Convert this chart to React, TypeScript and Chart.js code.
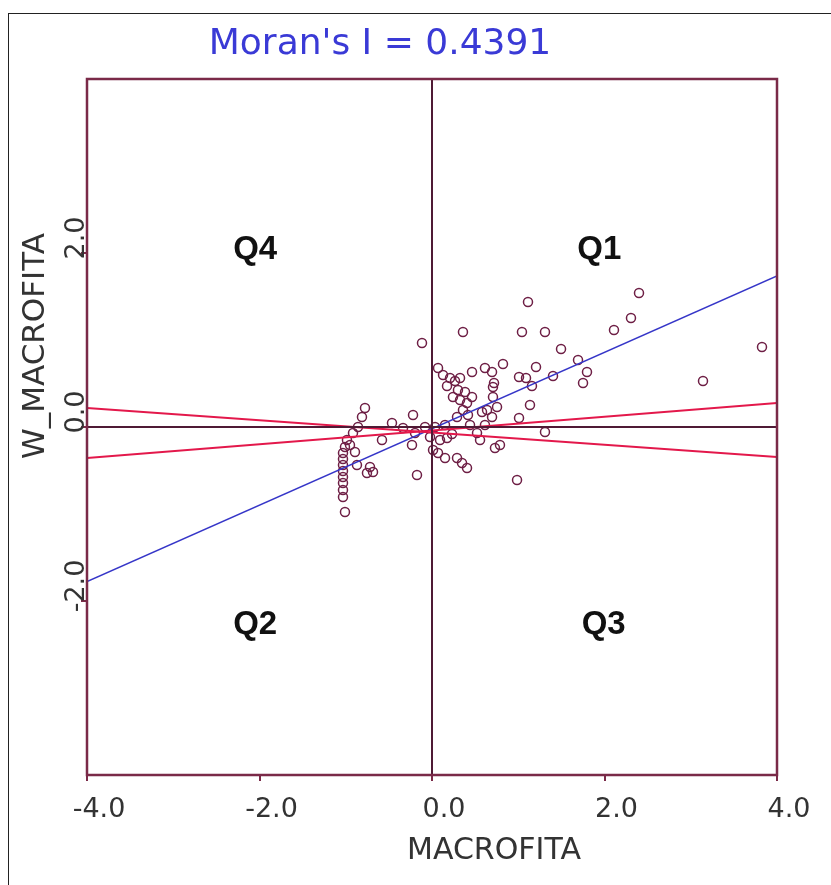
import React, { useEffect, useRef } from "react";
import { Chart, registerables } from "chart.js";

Chart.register(...registerables);

// ---- data ----
const macrofita = [
  1.113, 2.4, 2.307, 2.11, 0.359, 1.043, 1.31, -0.116, 1.496, 3.826,
  0.823, 1.693, 0.07, 0.464, 0.614, 0.696, 1.206, 1.797, 1.751, 3.142,
  1.403, 1.009, 1.09, 0.719, 0.707, 1.159, 0.128, 0.209, 0.267, 0.325,
  0.174, 0.301, 0.383, 0.243, 0.325, 0.406, 0.464, 0.359, 0.29, 0.417,
  0.58, 0.638, 0.696, 0.754, 1.136, 1.009, 1.31, 0.788, 0.73, 0.986,
  0.522, 0.557, 0.29, 0.348, 0.406, 0.012, 0.07, 0.151, 0.035, 0.093,
  0.174, 0.232, -0.197, -0.22, -0.464, -0.58, -0.232, -0.174, -0.777, -0.812,
  -0.858, -0.916, -0.986, -1.009, -1.032, -1.032, -1.032, -1.032, -1.032, -1.032,
  -1.032, -1.032, -1.009, -0.87, -0.719, -0.684, -0.754, -0.951, -0.893, -0.081,
  -0.336, 0.151, 0.441, 0.614, -0.023, 0.707,
];
const wMacrofita = [
  1.437, 1.54, 1.253, 1.115, 1.092, 1.092, 1.092, 0.966, 0.897, 0.92,
  0.724, 0.77, 0.678, 0.632, 0.678, 0.632, 0.69, 0.632, 0.506, 0.529,
  0.586, 0.575, 0.563, 0.506, 0.46, 0.471, 0.598, 0.563, 0.529, 0.563,
  0.471, 0.425, 0.402, 0.345, 0.31, 0.276, 0.345, 0.195, 0.115, 0.138,
  0.172, 0.195, 0.115, 0.23, 0.253, 0.103, -0.057, -0.207, -0.241, -0.609,
  -0.069, -0.149, -0.356, -0.414, -0.471, -0.264, -0.299, -0.356, 0.0, -0.149,
  -0.126, -0.08, -0.069, 0.138, 0.046, -0.149, -0.207, -0.552, 0.218, 0.115,
  0.0, -0.069, -0.149, -0.23, -0.299, -0.368, -0.437, -0.506, -0.575, -0.644,
  -0.724, -0.805, -0.977, -0.437, -0.46, -0.517, -0.529, -0.207, -0.287, 0.0,
  -0.011, 0.023, 0.023, 0.023, -0.115, 0.345,
];
const xRange = [-4, 4];
const yRange = [-4, 4];
const xTicks = [-4, -2, 0, 2, 4];
const yTicks = [-2, 0, 2];
const moransI = 0.4391;
const regIntercept = -0.02;
// y values of the two red lines at x = -4 and x = 4
const redLineA = [0.218, -0.345];
const redLineB = [-0.356, 0.276];
const quadrantLabels = ["Q4", "Q1", "Q2", "Q3"];
const titleText = "Moran's I = " + moransI.toFixed(4);
const xTitle = "MACROFITA";
const yTitle = "W_MACROFITA";

const FONT = "'DejaVu Sans', 'Verdana', sans-serif";

const textPlugin = {
  id: "moranText",
  afterDatasetsDraw(chart: any) {
    const { ctx, chartArea } = chart;
    ctx.save();
    ctx.strokeStyle = "#7a2a48";
    ctx.lineWidth = 2.5;
    ctx.strokeRect(chartArea.left, chartArea.top, chartArea.right - chartArea.left, chartArea.bottom - chartArea.top);
    ctx.restore();
  },
  afterDraw(chart: any) {
    const { ctx } = chart;
    const xs = chart.scales.x;
    const ys = chart.scales.y;
    ctx.save();
    // title
    ctx.fillStyle = "#3a3ad6";
    ctx.font = `36px ${FONT}`;
    ctx.textAlign = "center";
    ctx.textBaseline = "middle";
    ctx.fillText(titleText, 380, 45);

    // quadrant labels
    ctx.fillStyle = "#111";
    ctx.font = `bold 33px 'Liberation Sans', Arial, sans-serif`;
    const qPos = [
      [-2.05, 2.03],
      [1.94, 2.03],
      [-2.05, -2.28],
      [1.99, -2.28],
    ];
    quadrantLabels.forEach((q, i) => {
      ctx.fillText(q, xs.getPixelForValue(qPos[i][0]), ys.getPixelForValue(qPos[i][1]));
    });

    // y tick labels (rotated)
    ctx.fillStyle = "#333";
    ctx.font = `27px ${FONT}`;
    yTicks.forEach((v) => {
      const py = ys.getPixelForValue(v) - 15;
      ctx.save();
      ctx.translate(ys.left + 69, py);
      ctx.rotate(-Math.PI / 2);
      ctx.fillText(v.toFixed(1), 0, 0);
      ctx.restore();
    });

    // axis titles
    ctx.font = `30px ${FONT}`;
    ctx.fillText(xTitle, 494, 851);
    ctx.save();
    ctx.font = `31px ${FONT}`;
    ctx.translate(36, 346);
    ctx.rotate(-Math.PI / 2);
    ctx.fillText(yTitle, 0, 0);
    ctx.restore();
    ctx.restore();
  },
};

export default function App() {
  const ref = useRef<HTMLCanvasElement | null>(null);
  useEffect(() => {
    if (!ref.current) return;
    const points = macrofita.map((x, i) => ({ x, y: wMacrofita[i] }));
    const line = (pts: { x: number; y: number }[], color: string, width: number) => ({
      type: "line" as const,
      data: pts,
      showLine: true,
      borderColor: color,
      borderWidth: width,
      pointRadius: 0,
      fill: false,
    });
    const chart = new Chart(ref.current, {
      type: "scatter",
      data: {
        datasets: [
          line([{ x: xRange[0], y: 0 }, { x: xRange[1], y: 0 }], "#4f1a35", 2),
          line([{ x: 0, y: yRange[0] }, { x: 0, y: yRange[1] }], "#4f1a35", 2),
          line([{ x: xRange[0], y: redLineA[0] }, { x: xRange[1], y: redLineA[1] }], "#e3184b", 2),
          line([{ x: xRange[0], y: redLineB[0] }, { x: xRange[1], y: redLineB[1] }], "#e3184b", 2),
          line(
            [
              { x: xRange[0], y: regIntercept + moransI * xRange[0] },
              { x: xRange[1], y: regIntercept + moransI * xRange[1] },
            ],
            "#3636c8",
            1.6
          ),
          {
            data: points,
            pointStyle: "circle",
            pointRadius: 4.5,
            pointBorderWidth: 1.5,
            borderColor: "#6e1f45",
            backgroundColor: "rgba(0,0,0,0)",
            pointBackgroundColor: "rgba(0,0,0,0)",
            pointBorderColor: "#6e1f45",
          } as any,
        ],
      },
      options: {
        responsive: false,
        animation: false,
        layout: { padding: { left: 8, top: 79, right: 54, bottom: 10 } },
        plugins: { legend: { display: false }, tooltip: { enabled: false }, title: { display: false } },
        scales: {
          x: {
            type: "linear",
            min: xRange[0],
            max: xRange[1],
            afterBuildTicks: (s: any) => {
              s.ticks = xTicks.map((v) => ({ value: v }));
            },
            afterFit: (s: any) => {
              s.height = 100;
            },
            ticks: {
              autoSkip: false,
              maxRotation: 0,
              minRotation: 0,
              labelOffset: 12,
              padding: 13,
              color: "#333",
              font: { family: FONT, size: 27 },
              callback: (v: any) => Number(v).toFixed(1),
            },
            grid: { drawOnChartArea: false, drawTicks: true, tickLength: 6, color: "#7a2a48", lineWidth: 2 },
            border: { display: false },
          },
          y: {
            type: "linear",
            min: yRange[0],
            max: yRange[1],
            afterBuildTicks: (s: any) => {
              s.ticks = yTicks.map((v) => ({ value: v }));
            },
            afterFit: (s: any) => {
              s.width = 79;
            },
            ticks: { display: false },
            grid: { drawOnChartArea: false, drawTicks: true, tickLength: 6, color: "#7a2a48", lineWidth: 2 },
            border: { display: false },
          },
        },
      } as any,
      plugins: [textPlugin],
    });
    return () => chart.destroy();
  }, []);

  return (
    <div style={{ position: "absolute", left: 0, top: 0, width: 831, height: 885, overflow: "hidden" }}>
      <div
        style={{
          position: "absolute",
          left: 8,
          top: 13,
          width: 840,
          height: 890,
          border: "1.5px solid #222",
          boxSizing: "border-box",
          background: "#fff",
        }}
      />
      <canvas
        ref={ref}
        width={831}
        height={885}
        style={{ position: "absolute", left: 0, top: 0, width: 831, height: 885 }}
      />
    </div>
  );
}
